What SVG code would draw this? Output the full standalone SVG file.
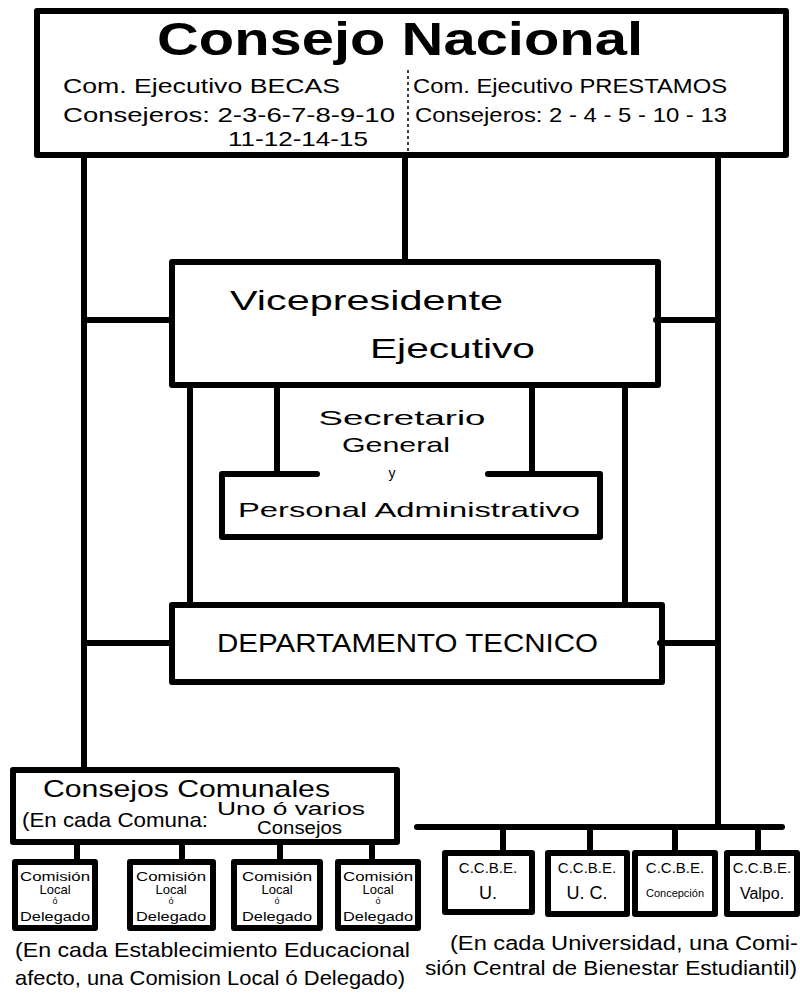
<svg xmlns="http://www.w3.org/2000/svg" width="800" height="1000" viewBox="0 0 800 1000">
<style>
.box{fill:none;stroke:#000;stroke-width:6;stroke-linejoin:round;stroke-linecap:round}
.ln{stroke:#000;stroke-width:6;stroke-linecap:round;fill:none}
text{font-family:"Liberation Sans","DejaVu Sans",sans-serif;fill:#000}
.h{font-size:28px}
.m{font-size:21px}
.s{font-size:13px}
</style>
<rect width="800" height="1000" fill="#fff"/>
<g id="connectors">
<line class="ln" x1="84" y1="155" x2="84" y2="770"/>
<line class="ln" x1="405" y1="155" x2="405" y2="262"/>
<line class="ln" x1="718" y1="155" x2="718" y2="827"/>
<line class="ln" x1="84" y1="320" x2="172" y2="320"/>
<line class="ln" x1="656" y1="320" x2="718" y2="320"/>
<line class="ln" x1="84" y1="643" x2="172" y2="643"/>
<line class="ln" x1="660" y1="643" x2="718" y2="643"/>
<line class="ln" x1="190" y1="385" x2="190" y2="605"/>
<line class="ln" x1="625" y1="385" x2="625" y2="605"/>
<line class="ln" x1="277" y1="385" x2="277" y2="474"/>
<line class="ln" x1="532" y1="385" x2="532" y2="474"/>
<line class="ln" x1="417" y1="827" x2="782" y2="827"/>
<line class="ln" x1="503" y1="827" x2="503" y2="853"/>
<line class="ln" x1="590" y1="827" x2="590" y2="853"/>
<line class="ln" x1="675" y1="827" x2="675" y2="853"/>
<line class="ln" x1="758" y1="827" x2="758" y2="853"/>
<line class="ln" x1="77" y1="842" x2="77" y2="862"/>
<line class="ln" x1="182" y1="842" x2="182" y2="862"/>
<line class="ln" x1="280" y1="842" x2="280" y2="862"/>
<line class="ln" x1="372" y1="842" x2="372" y2="862"/>
</g>
<g id="consejo-nacional">
<rect class="box" x="37" y="11" width="749" height="144"/>
<line x1="408" y1="70" x2="408" y2="155" stroke="#000" stroke-width="1.5" stroke-dasharray="3,3"/>
<text x="400" y="55" text-anchor="middle" font-size="46" font-weight="bold" textLength="486" lengthAdjust="spacingAndGlyphs">Consejo Nacional</text>
<text class="m" x="63" y="93" textLength="277" lengthAdjust="spacingAndGlyphs">Com. Ejecutivo BECAS</text>
<text class="m" x="63" y="122" textLength="332" lengthAdjust="spacingAndGlyphs">Consejeros: 2-3-6-7-8-9-10</text>
<text class="m" x="228" y="146" textLength="140" lengthAdjust="spacingAndGlyphs">11-12-14-15</text>
<text class="m" x="413" y="93" textLength="314" lengthAdjust="spacingAndGlyphs">Com. Ejecutivo PRESTAMOS</text>
<text class="m" x="415" y="122" textLength="312" lengthAdjust="spacingAndGlyphs">Consejeros: 2 - 4 - 5 - 10 - 13</text>
</g>
<g id="vicepresidente">
<rect class="box" x="172" y="262" width="486" height="123"/>
<text class="h" x="230" y="310" textLength="273" lengthAdjust="spacingAndGlyphs">Vicepresidente</text>
<text class="h" x="370" y="358" textLength="165" lengthAdjust="spacingAndGlyphs">Ejecutivo</text>
</g>
<g id="secretario">
<text class="m" x="402" y="425" text-anchor="middle" font-size="24" textLength="167" lengthAdjust="spacingAndGlyphs">Secretario</text>
<text class="m" x="396" y="452" text-anchor="middle" textLength="108" lengthAdjust="spacingAndGlyphs">General</text>
<text x="392" y="478" text-anchor="middle" font-size="14">y</text>
</g>
<g id="personal-administrativo">
<path class="box" d="M317,474 L222,474 L222,537 L600,537 L600,474 L488,474"/>
<text class="m" x="238" y="517" font-size="24" textLength="342" lengthAdjust="spacingAndGlyphs">Personal Administrativo</text>
</g>
<g id="departamento-tecnico">
<rect class="box" x="172" y="605" width="490" height="77"/>
<text x="217" y="652" font-size="25" textLength="381" lengthAdjust="spacingAndGlyphs">DEPARTAMENTO TECNICO</text>
</g>
<g id="consejos-comunales">
<rect class="box" x="13" y="770" width="384" height="72"/>
<text x="43" y="797" font-size="24" textLength="287" lengthAdjust="spacingAndGlyphs">Consejos Comunales</text>
<text x="22" y="827" font-size="21" textLength="186" lengthAdjust="spacingAndGlyphs">(En cada Comuna:</text>
<text x="217" y="815" font-size="18" textLength="148" lengthAdjust="spacingAndGlyphs">Uno ó varios</text>
<text x="257" y="834" font-size="18" textLength="85" lengthAdjust="spacingAndGlyphs">Consejos</text>
</g>
<g id="comision-1">
<rect class="box" x="15" y="862" width="80" height="66"/>
<text class="s" x="55" y="881" text-anchor="middle" textLength="70" lengthAdjust="spacingAndGlyphs">Comisión</text>
<text class="s" x="55" y="894" text-anchor="middle">Local</text>
<text x="55" y="904" text-anchor="middle" font-size="9">ó</text>
<text class="s" x="55" y="921" text-anchor="middle" textLength="70" lengthAdjust="spacingAndGlyphs">Delegado</text>
</g>
<g id="comision-2">
<rect class="box" x="130" y="862" width="83" height="66"/>
<text class="s" x="171" y="881" text-anchor="middle" textLength="70" lengthAdjust="spacingAndGlyphs">Comisión</text>
<text class="s" x="171" y="894" text-anchor="middle">Local</text>
<text x="171" y="904" text-anchor="middle" font-size="9">ó</text>
<text class="s" x="171" y="921" text-anchor="middle" textLength="70" lengthAdjust="spacingAndGlyphs">Delegado</text>
</g>
<g id="comision-3">
<rect class="box" x="234" y="862" width="86" height="66"/>
<text class="s" x="277" y="881" text-anchor="middle" textLength="70" lengthAdjust="spacingAndGlyphs">Comisión</text>
<text class="s" x="277" y="894" text-anchor="middle">Local</text>
<text x="277" y="904" text-anchor="middle" font-size="9">ó</text>
<text class="s" x="277" y="921" text-anchor="middle" textLength="70" lengthAdjust="spacingAndGlyphs">Delegado</text>
</g>
<g id="comision-4">
<rect class="box" x="338" y="862" width="80" height="66"/>
<text class="s" x="378" y="881" text-anchor="middle" textLength="70" lengthAdjust="spacingAndGlyphs">Comisión</text>
<text class="s" x="378" y="894" text-anchor="middle">Local</text>
<text x="378" y="904" text-anchor="middle" font-size="9">ó</text>
<text class="s" x="378" y="921" text-anchor="middle" textLength="70" lengthAdjust="spacingAndGlyphs">Delegado</text>
</g>
<g id="nota-establecimientos">
<text x="15" y="957" font-size="21" textLength="395" lengthAdjust="spacingAndGlyphs">(En cada Establecimiento Educacional</text>
<text x="15" y="985" font-size="21" textLength="390" lengthAdjust="spacingAndGlyphs">afecto, una Comision Local ó Delegado)</text>
</g>
<g id="ccbe-u">
<rect class="box" x="445" y="853" width="87" height="59"/>
<text x="488" y="873" text-anchor="middle" font-size="15">C.C.B.E.</text>
<text x="488" y="899" text-anchor="middle" font-size="18">U.</text>
</g>
<g id="ccbe-uc">
<rect class="box" x="548" y="853" width="79" height="61"/>
<text x="587" y="873" text-anchor="middle" font-size="15">C.C.B.E.</text>
<text x="587" y="899" text-anchor="middle" font-size="18">U. C.</text>
</g>
<g id="ccbe-concepcion">
<rect class="box" x="635" y="853" width="80" height="61"/>
<text x="675" y="873" text-anchor="middle" font-size="15">C.C.B.E.</text>
<text x="675" y="897" text-anchor="middle" font-size="11">Concepción</text>
</g>
<g id="ccbe-valpo">
<rect class="box" x="727" y="853" width="70" height="61"/>
<text x="762" y="873" text-anchor="middle" font-size="15">C.C.B.E.</text>
<text x="762" y="899" text-anchor="middle" font-size="16">Valpo.</text>
</g>
<g id="nota-universidades">
<text x="450" y="950" font-size="20" textLength="348" lengthAdjust="spacingAndGlyphs">(En cada Universidad, una Comi-</text>
<text x="425" y="975" font-size="20" textLength="372" lengthAdjust="spacingAndGlyphs">sión Central de Bienestar Estudiantil)</text>
</g>
</svg>
